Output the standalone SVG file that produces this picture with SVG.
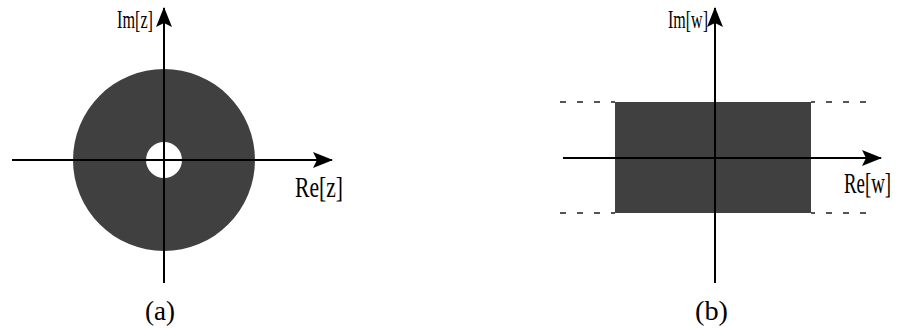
<svg xmlns="http://www.w3.org/2000/svg" width="910" height="328" viewBox="0 0 910 328">
<style>
.ax{stroke:#000;stroke-width:2;fill:none}
.fill{fill:#404040}
.dash{stroke:#555;stroke-width:2;stroke-dasharray:6 11;fill:none}
text{font-family:"Liberation Serif","Times New Roman",serif;fill:#000}
</style>
<defs>
<marker id="ah" viewBox="0 0 20 16" refX="19" refY="8" markerWidth="20" markerHeight="16" markerUnits="userSpaceOnUse" orient="auto">
<path d="M0,0 L20,8 L0,16 L4,8 Z" fill="#000"/>
</marker>
</defs>
<g id="panel-a">
<g id="annulus">
<path class="fill" fill-rule="evenodd" d="M73,160 a91,91 0 1,0 182,0 a91,91 0 1,0 -182,0 Z M146,160 a18,18 0 1,0 36,0 a18,18 0 1,0 -36,0 Z"/>
</g>
<g id="axes-a">
<line class="ax" x1="12" y1="160" x2="332" y2="160" marker-end="url(#ah)"/>
<line class="ax" x1="164" y1="283" x2="164" y2="8" marker-end="url(#ah)"/>
</g>
<text x="117" y="28" font-size="26" textLength="36" lengthAdjust="spacingAndGlyphs">Im[z]</text>
<text x="295" y="197" font-size="29" textLength="48" lengthAdjust="spacingAndGlyphs">Re[z]</text>
<text x="145" y="320" font-size="28" textLength="30" lengthAdjust="spacingAndGlyphs">(a)</text>
</g>
<g id="panel-b">
<g id="strip">
<rect class="fill" x="615" y="102" width="196" height="111"/>
<line class="dash" x1="560" y1="102" x2="615" y2="102"/>
<line class="dash" x1="560" y1="213" x2="615" y2="213"/>
<line class="dash" x1="866" y1="102" x2="811" y2="102"/>
<line class="dash" x1="866" y1="213" x2="811" y2="213"/>
</g>
<g id="axes-b">
<line class="ax" x1="563" y1="158" x2="881" y2="158" marker-end="url(#ah)"/>
<line class="ax" x1="715" y1="283" x2="715" y2="8" marker-end="url(#ah)"/>
</g>
<text x="668" y="28" font-size="26" textLength="40" lengthAdjust="spacingAndGlyphs">Im[w]</text>
<text transform="translate(844,193) scale(0.65,1)" font-size="29">Re[w]</text>
<text x="695" y="320" font-size="28" textLength="33" lengthAdjust="spacingAndGlyphs">(b)</text>
</g>
</svg>
